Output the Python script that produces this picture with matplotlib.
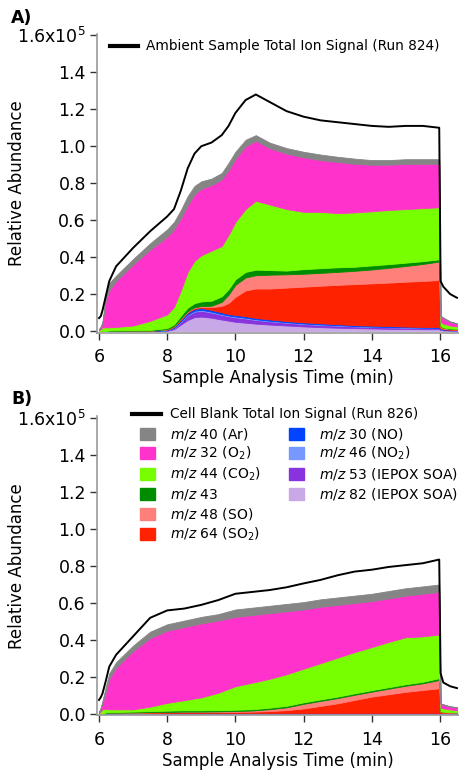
## Stacked ion signals for two AMS runs (ambient sample vs cell blank)
import numpy as np
import matplotlib.pyplot as plt
from matplotlib.lines import Line2D
from matplotlib.patches import Rectangle

## Panel A data (units of 1e5), components listed bottom to top
time_a = [6.0, 6.05, 6.1, 6.2, 6.3, 6.5, 7.0, 7.5, 8.0, 8.2, 8.4, 8.6, 8.8, 9.0,
          9.3, 9.6, 9.8, 10.0, 10.3, 10.6, 11.0, 11.5, 12.0, 12.5, 13.0, 13.5,
          14.0, 14.5, 15.0, 15.5, 15.98, 16.02, 16.1, 16.3, 16.5]
mz82_a = [0, 0, 0, 0, 0, 0, 0, 0, 0.002, 0.01, 0.035, 0.06, 0.075, 0.078, 0.072,
          0.062, 0.056, 0.05, 0.045, 0.04, 0.035, 0.03, 0.025, 0.021, 0.018, 0.016,
          0.014, 0.012, 0.011, 0.01, 0.01, 0.006, 0.004, 0.003, 0.002]
mz53_a = [0, 0, 0, 0, 0, 0, 0, 0, 0.001, 0.005, 0.015, 0.025, 0.03, 0.032, 0.028,
          0.026, 0.024, 0.025, 0.023, 0.02, 0.018, 0.015, 0.013, 0.012, 0.011, 0.009,
          0.008, 0.008, 0.007, 0.006, 0.005, 0.003, 0.002, 0.001, 0.001]
mz46_a = [0, 0, 0, 0, 0, 0, 0, 0, 0.001, 0.002, 0.003, 0.004, 0.005, 0.005, 0.005,
          0.004, 0.004, 0.004, 0.004, 0.004, 0.003, 0.003, 0.003, 0.003, 0.003, 0.002,
          0.002, 0.002, 0.002, 0.002, 0.002, 0.001, 0.001, 0.001, 0.001]
mz30_a = [0, 0, 0, 0, 0.002, 0.002, 0.002, 0.002, 0.003, 0.004, 0.008, 0.01, 0.01,
          0.01, 0.009, 0.009, 0.008, 0.008, 0.008, 0.007, 0.007, 0.006, 0.006, 0.006,
          0.005, 0.005, 0.005, 0.005, 0.004, 0.004, 0.004, 0.003, 0.002, 0.002, 0.002]
mz64_a = [0, 0, 0, 0, 0, 0, 0, 0, 0.002, 0.003, 0.004, 0.005, 0.005, 0.006, 0.015,
          0.035, 0.06, 0.098, 0.14, 0.159, 0.167, 0.181, 0.193, 0.203, 0.213, 0.222,
          0.229, 0.235, 0.243, 0.249, 0.255, 0.006, 0.004, 0.003, 0.002]
mz48_a = [0, 0, 0, 0, 0, 0, 0, 0, 0.001, 0.002, 0.003, 0.003, 0.004, 0.004, 0.008,
          0.022, 0.045, 0.065, 0.07, 0.072, 0.075, 0.072, 0.07, 0.07, 0.07, 0.072,
          0.075, 0.08, 0.085, 0.092, 0.1, 0.004, 0.003, 0.002, 0.002]
mz43_a = [0, 0, 0, 0, 0.001, 0.002, 0.003, 0.004, 0.006, 0.01, 0.015, 0.02, 0.022,
          0.025, 0.027, 0.03, 0.03, 0.03, 0.03, 0.03, 0.025, 0.02, 0.025, 0.025, 0.025,
          0.022, 0.022, 0.02, 0.018, 0.015, 0.012, 0.004, 0.003, 0.002, 0.002]
mz44_a = [0.005, 0.01, 0.02, 0.02, 0.017, 0.018, 0.025, 0.049, 0.074, 0.094, 0.137,
          0.193, 0.229, 0.25, 0.271, 0.272, 0.293, 0.31, 0.34, 0.373, 0.355, 0.333,
          0.31, 0.305, 0.293, 0.294, 0.293, 0.293, 0.29, 0.287, 0.282, 0.023, 0.021,
          0.016, 0.013]
mz32_a = [0.005, 0.01, 0.02, 0.15, 0.2, 0.248, 0.33, 0.385, 0.42, 0.42, 0.39, 0.36,
          0.36, 0.36, 0.355, 0.36, 0.35, 0.34, 0.34, 0.325, 0.305, 0.3, 0.295, 0.28,
          0.277, 0.263, 0.252, 0.245, 0.245, 0.24, 0.235, 0.03, 0.03, 0.02, 0.015]
mz40_a = [0.002, 0.005, 0.01, 0.03, 0.04, 0.03, 0.03, 0.035, 0.04, 0.04, 0.045, 0.05,
          0.045, 0.04, 0.035, 0.035, 0.04, 0.04, 0.035, 0.03, 0.03, 0.03, 0.03, 0.03,
          0.028, 0.028, 0.025, 0.025, 0.025, 0.025, 0.025, 0.003, 0.003, 0.002, 0.002]
total_a = [0.07, 0.08, 0.11, 0.19, 0.27, 0.35, 0.45, 0.54, 0.62, 0.66, 0.76, 0.88,
           0.96, 1.0, 1.02, 1.06, 1.11, 1.18, 1.25, 1.28, 1.24, 1.19, 1.16, 1.14, 1.13,
           1.12, 1.11, 1.105, 1.11, 1.11, 1.10, 0.27, 0.24, 0.2, 0.18]

## Panel B data (cell blank)
time_b = [6.0, 6.05, 6.1, 6.2, 6.3, 6.5, 7.0, 7.5, 8.0, 8.5, 9.0, 9.5, 10.0, 10.5,
          11.0, 11.5, 12.0, 12.5, 13.0, 13.5, 14.0, 14.5, 15.0, 15.5, 15.98, 16.02,
          16.1, 16.3, 16.5]
mz82_b = [0, 0, 0.001] + [0.002] * 22 + [0.001] * 4
mz53_b = [0, 0, 0] + [0.001] * 26
mz46_b = [0, 0, 0] + [0.001] * 26
mz30_b = [0, 0, 0] + [0.002] * 22 + [0.002] * 4
mz64_b = [0, 0, 0, 0.001, 0.001, 0.001, 0.002, 0.003, 0.004, 0.005, 0.005, 0.005,
          0.006, 0.007, 0.01, 0.015, 0.024, 0.038, 0.052, 0.07, 0.088, 0.101, 0.114,
          0.124, 0.133, 0.005, 0.004, 0.003, 0.002]
mz48_b = [0, 0, 0, 0, 0, 0, 0, 0.001, 0.001, 0.002, 0.002, 0.003, 0.004, 0.006,
          0.01, 0.015, 0.025, 0.027, 0.028, 0.028, 0.027, 0.03, 0.033, 0.036, 0.045,
          0.003, 0.002, 0.002, 0.001]
mz43_b = [0, 0, 0, 0.002, 0.003, 0.004, 0.005, 0.006, 0.007, 0.007, 0.007, 0.007,
          0.007, 0.007, 0.008, 0.008, 0.008, 0.008, 0.008, 0.008, 0.008, 0.008, 0.008,
          0.008, 0.01, 0.002, 0.001, 0.001, 0.001]
mz44_b = [0.005, 0.015, 0.024, 0.019, 0.015, 0.014, 0.012, 0.024, 0.042, 0.055, 0.07,
          0.094, 0.127, 0.144, 0.156, 0.171, 0.182, 0.196, 0.211, 0.223, 0.233, 0.245,
          0.254, 0.246, 0.236, 0.02, 0.018, 0.014, 0.011]
mz32_b = [0.005, 0.015, 0.035, 0.092, 0.165, 0.225, 0.315, 0.37, 0.39, 0.395, 0.4,
          0.39, 0.375, 0.365, 0.355, 0.34, 0.32, 0.305, 0.285, 0.265, 0.248, 0.235,
          0.225, 0.23, 0.23, 0.02, 0.02, 0.015, 0.015]
mz40_b = [0.002, 0.005, 0.01, 0.03, 0.03, 0.03, 0.03, 0.035, 0.035, 0.035, 0.035,
          0.035, 0.04, 0.04, 0.04, 0.04, 0.04, 0.04, 0.04, 0.04, 0.04, 0.04, 0.04,
          0.04, 0.04, 0.003, 0.003, 0.002, 0.002]
total_b = [0.076, 0.09, 0.11, 0.18, 0.256, 0.32, 0.42, 0.52, 0.56, 0.57, 0.59, 0.616,
           0.65, 0.66, 0.67, 0.685, 0.706, 0.725, 0.75, 0.77, 0.78, 0.795, 0.805, 0.815,
           0.835, 0.22, 0.17, 0.15, 0.14]

## Legend labels and colors (top of stack first)
labels = [r'$m/z$ 40 (Ar)', r'$m/z$ 32 (O$_2$)', r'$m/z$ 44 (CO$_2$)', r'$m/z$ 43',
          r'$m/z$ 48 (SO)', r'$m/z$ 64 (SO$_2$)', r'$m/z$ 30 (NO)', r'$m/z$ 46 (NO$_2$)',
          r'$m/z$ 53 (IEPOX SOA)', r'$m/z$ 82 (IEPOX SOA)']
colors = ['#858585', '#FF33CC', '#77FF00', '#008C00', '#FF7F7A', '#FF2200',
          '#0044FF', '#7799FF', '#8833DD', '#C8A8E6']
ytick_vals = [0, 0.2, 0.4, 0.6, 0.8, 1.0, 1.2, 1.4, 1.6]
ytick_labels = ['0.0', '0.2', '0.4', '0.6', '0.8', '1.0', '1.2', '1.4', r'1.6x10$^5$']

plt.rcParams['font.family'] = 'DejaVu Sans'

fig = plt.figure(figsize = (4.59, 7.74), dpi = 100)
ax_a = fig.add_axes([0.2113, 0.5704, 0.7887, 0.3863])
ax_b = fig.add_axes([0.2113, 0.0756, 0.7887, 0.3867])

def draw_panel(ax, t, comps, total):
    # stack bottom -> top, so reverse the legend order
    ax.stackplot(t, *comps[::-1], colors = colors[::-1],
                 edgecolor = 'face', linewidth = 0.6)
    ax.plot(t, total, color = 'black', lw = 1.4)
    ax.set_xlim(5.94, 16.56)
    ax.set_ylim(-0.008, 1.61)
    ax.set_xticks([6, 8, 10, 12, 14, 16])
    ax.set_yticks(ytick_vals)
    ax.set_yticklabels(ytick_labels)
    for s in ['top', 'right']:
        ax.spines[s].set_visible(False)
    for s in ['left', 'bottom']:
        ax.spines[s].set_color('#9a9a9a')
        ax.spines[s].set_linewidth(1.2)
    ax.tick_params(direction = 'out', length = 5, width = 1, color = '#333333',
                   labelsize = 12.5)
    ax.tick_params(axis = 'x', pad = 6)
    ax.tick_params(axis = 'y', pad = 3)
    ax.set_xlabel('Sample Analysis Time (min)', fontsize = 12, labelpad = 2)
    ax.set_ylabel('Relative Abundance', fontsize = 12)
    ax.yaxis.set_label_coords(-0.195, 0.5)

draw_panel(ax_a, time_a, [mz40_a, mz32_a, mz44_a, mz43_a, mz48_a, mz64_a,
                          mz30_a, mz46_a, mz53_a, mz82_a], total_a)
draw_panel(ax_b, time_b, [mz40_b, mz32_b, mz44_b, mz43_b, mz48_b, mz64_b,
                          mz30_b, mz46_b, mz53_b, mz82_b], total_b)

## Panel letters
fig.text(0.024, 0.989, 'A)', fontsize = 12.5, fontweight = 'bold', va = 'top')
fig.text(0.024, 0.496, 'B)', fontsize = 12.5, fontweight = 'bold', va = 'top')

## Legends drawn by hand (pixel positions from top-left)
W, H = 459.0, 774.0
def px(x, y):
    return x / W, 1 - y / H

def legend_line(x0, x1, y, text, tx):
    fig.add_artist(Line2D([x0 / W, x1 / W], [1 - y / H, 1 - y / H],
                          color = 'black', lw = 3))
    fig.text(*px(tx, y), text, fontsize = 9.8, va = 'center')

legend_line(110, 138, 46, 'Ambient Sample Total Ion Signal (Run 824)', 146)
legend_line(132, 161, 414, 'Cell Blank Total Ion Signal (Run 826)', 170)

rows = [434, 453, 474, 494, 514, 534]
for i, (lab, col) in enumerate(zip(labels, colors)):
    if i < 6:
        x0, y = 140, rows[i]
    else:
        x0, y = 289, rows[i - 6]
    fig.add_artist(Rectangle(px(x0, y + 6), 15 / W, 12 / H, color = col))
    fig.text(*px(x0 + 30, y), lab, fontsize = 10, va = 'center')

fig.savefig('out.png', dpi = 100)
